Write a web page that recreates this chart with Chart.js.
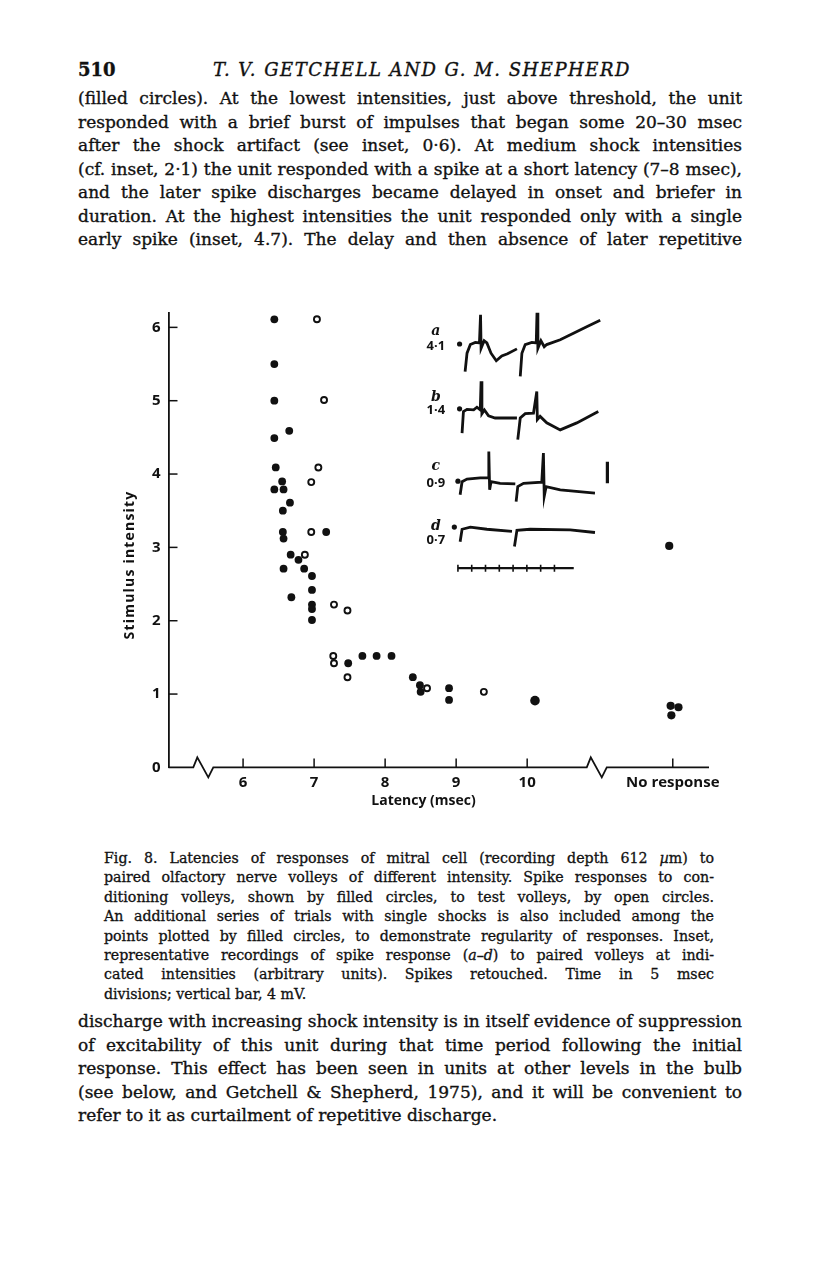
<!DOCTYPE html>
<html>
<head>
<meta charset="utf-8">
<script src="https://cdn.jsdelivr.net/npm/chart.js@4.4.1/dist/chart.umd.min.js"></script>
<style>
  body { margin: 0; background: #fff; }
  #page { position: relative; width: 816px; height: 1275px; overflow: hidden; color: #111; font-family: 'DejaVu Serif', serif; }
  .blk { position: absolute; -webkit-text-stroke: 0.35px #111; }
  .ln { white-space: nowrap; }
  #head { left: 78px; top: 58px; width: 664px; font-size: 18px; line-height: 24px; }
  #head .num { position: absolute; left: 0; font-weight: bold; }
  #head .who { position: absolute; left: 135px; font-style: italic; }
  #body1 { left: 78px; top: 87px; width: 664px; font-size: 17px; line-height: 23.5px; }
  #caption { left: 104px; top: 849px; width: 610px; font-size: 14.2px; line-height: 19.4px; -webkit-text-stroke: 0.3px #111; }
  #body2 { left: 78px; top: 1010px; width: 664px; font-size: 17px; line-height: 23.5px; }
  #chartBox { position: absolute; left: 100px; top: 290px; width: 640px; height: 530px; }
</style>
</head>
<body>
<div id="page">
  <div id="head" class="blk"><span class="num">510</span><span class="who ln" id="who">T. V. GETCHELL AND G. M. SHEPHERD</span></div>
  <div id="body1" class="blk"></div>
  <div id="chartBox"><canvas id="latencyChart" width="640" height="530"></canvas></div>
  <div id="caption" class="blk"></div>
  <div id="body2" class="blk"></div>
</div>
<script>
// conditioning volleys (filled circles), incl. single-shock trials
const filledLatency   = [6.44, 6.44, 6.44, 6.65, 6.44, 6.46, 6.55, 6.44, 6.57, 6.66, 6.56, 6.56, 6.57, 7.17, 6.67, 6.78, 6.57, 6.86, 6.97, 6.97, 6.68, 6.97, 6.97, 6.97, 7.48, 7.68, 7.88, 8.09, 8.39, 8.49, 8.50, 8.90, 8.90, 10.11];
const filledIntensity = [6.11, 5.50, 5.00, 4.59, 4.49, 4.09, 3.90, 3.79, 3.79, 3.61, 3.50, 3.21, 3.12, 3.21, 2.90, 2.83, 2.71, 2.71, 2.61, 2.42, 2.32, 2.22, 2.16, 2.01, 1.42, 1.52, 1.52, 1.52, 1.23, 1.12, 1.03, 1.08, 0.92, 0.91];
// test volleys (open circles)
const openLatency   = [7.04, 7.14, 7.06, 6.96, 6.96, 6.87, 7.28, 7.47, 7.27, 7.28, 7.47, 8.59, 9.39];
const openIntensity = [6.11, 5.01, 4.09, 3.89, 3.21, 2.90, 2.22, 2.14, 1.52, 1.42, 1.23, 1.08, 1.03];
// no response column
const noRespLatency   = [12.00, 12.02, 12.13, 12.03];
const noRespIntensity = [3.02, 0.84, 0.82, 0.71];

const xTickValues = [6, 7, 8, 9, 10, 12.05];
const xTickLabels = ['6', '7', '8', '9', '10', 'No response'];
const yTickValues = [0, 1, 2, 3, 4, 5, 6];
const axisBreaks = [5.44, 10.98];

// inset recordings: [time msec, potential mV]
const insetLetters = ['a', 'b', 'c', 'd'];
const insetIntensities = ['4·1', '1·4', '0·9', '0·7'];
const stimT = [0.6, 0.6, 0.0, -1.3];
const stimV = [41.5, 29.5, 16.1, 7.6];
const traceA1 = [[2.6,36.4],[3.3,39.8],[4.5,41.4],[6.3,41.8],[7.8,41.7],[8.2,46.9],[8.4,40.7],[9.5,42.1],[10.5,41.7],[12.0,39.8],[13.9,38.4],[15.9,39.3],[18.0,39.7],[21.4,40.6]];
const traceA2 = [[22.6,35.5],[23.2,39.8],[24.4,41.4],[26.8,41.8],[28.4,41.7],[28.7,47.8],[29.0,40.7],[30.1,42.1],[31.3,41.0],[32.2,41.4],[37.1,42.3],[41.9,43.5],[46.7,44.7],[51.6,45.9]];
const traceB1 = [[1.5,25.0],[2.0,29.0],[3.3,29.4],[5.7,29.3],[6.9,29.8],[8.1,29.3],[8.4,34.6],[8.7,28.6],[9.6,29.3],[11.1,28.2],[13.5,27.8],[21.4,27.8]];
const traceB2 = [[21.7,23.8],[22.6,27.8],[24.4,28.6],[27.4,28.7],[28.6,32.7],[28.8,27.5],[29.8,28.1],[32.2,26.9],[37.1,25.6],[43.1,26.9],[50.9,29.0]];
const traceC1 = [[0.8,13.6],[1.5,16.0],[3.3,16.5],[8.1,16.7],[11.1,16.7],[11.2,21.6],[11.5,14.5],[12.0,16.0],[15.3,15.7],[20.8,15.6]];
const traceC2 = [[21.1,12.3],[21.7,15.1],[23.8,15.7],[30.4,15.9],[31.0,21.3],[31.3,13.3],[32.0,15.1],[37.1,14.5],[49.7,13.9]];
const traceD1 = [[0.8,4.9],[1.5,7.2],[4.5,7.6],[10.5,7.2],[19.6,6.8]];
const traceD2 = [[20.5,4.0],[21.4,7.0],[26.2,7.2],[40.7,7.1],[49.7,6.6]];
const timeBar = [[0, 0], [42, 0]];
const timeBarTicks = [0, 5, 10, 15, 20, 25, 30, 35];
const voltBar = [[54.2, 15.7], [54.2, 19.7]];

// ---- text ----
const bodyLines = [
  '(filled circles). At the lowest intensities, just above threshold, the unit',
  'responded with a brief burst of impulses that began some 20–30 msec',
  'after the shock artifact (see inset, 0·6). At medium shock intensities',
  '(cf. inset, 2·1) the unit responded with a spike at a short latency (7–8 msec),',
  'and the later spike discharges became delayed in onset and briefer in',
  'duration. At the highest intensities the unit responded only with a single',
  'early spike (inset, 4.7). The delay and then absence of later repetitive'
];
const captionLines = [
  'Fig. 8. Latencies of responses of mitral cell (recording depth 612 <i>µ</i>m) to',
  'paired olfactory nerve volleys of different intensity. Spike responses to con-',
  'ditioning volleys, shown by filled circles, to test volleys, by open circles.',
  'An additional series of trials with single shocks is also included among the',
  'points plotted by filled circles, to demonstrate regularity of responses. Inset,',
  'representative recordings of spike response (<i>a</i>–<i>d</i>) to paired volleys at indi-',
  'cated intensities (arbitrary units). Spikes retouched. Time in 5 msec',
  'divisions; vertical bar, 4 mV.'
];
const lowerLines = [
  'discharge with increasing shock intensity is in itself evidence of suppression',
  'of excitability of this unit during that time period following the initial',
  'response. This effect has been seen in units at other levels in the bulb',
  '(see below, and Getchell &amp; Shepherd, 1975), and it will be convenient to',
  'refer to it as curtailment of repetitive discharge.'
];

function fitLine(sp, W, stretch) {
  const w = sp.getBoundingClientRect().width;
  if (w > W) {
    sp.style.letterSpacing = ((W - w) / sp.textContent.length) + 'px';
  } else if (stretch) {
    const gaps = (sp.textContent.match(/ /g) || []).length;
    if (gaps) sp.style.wordSpacing = ((W - w) / gaps) + 'px';
  }
}

function setBlock(id, lines, lastPlain) {
  const box = document.getElementById(id);
  const W = box.clientWidth;
  lines.forEach(function (html, i) {
    const ln = document.createElement('div');
    ln.className = 'ln';
    const sp = document.createElement('span');
    sp.innerHTML = html;
    ln.appendChild(sp);
    box.appendChild(ln);
    fitLine(sp, W, !(lastPlain && i === lines.length - 1));
  });
}

setBlock('body1', bodyLines, false);
setBlock('caption', captionLines, true);
setBlock('body2', lowerLines, true);
(function () {
  const who = document.getElementById('who');
  const w = who.getBoundingClientRect().width;
  who.style.letterSpacing = ((418 - w) / who.textContent.length) + 'px';
})();

// ---- chart ----
const pts = (xs, ys) => xs.map((x, i) => ({ x: x, y: ys[i] }));
const pairs = arr => arr.map(p => ({ x: p[0], y: p[1] }));
const ink = '#111';

const traceSet = (arr) => ({
  data: pairs(arr), xAxisID: 'tx', yAxisID: 'ty', showLine: true,
  borderColor: ink, borderWidth: 2.8, pointRadius: 0, tension: 0
});

const insetLabelPos = { x: -8.0, letterV: [43.8, 31.7, 18.9, 7.7], numV: [41.0, 29.3, 15.7, 5.2] };

const paperAxes = {
  id: 'paperAxes',
  afterDatasetsDraw(chart) {
    const ctx = chart.ctx;
    const x = chart.scales.x, y = chart.scales.y;
    const tx = chart.scales.tx, ty = chart.scales.ty;
    const area = chart.chartArea;
    const y0 = y.getPixelForValue(0);
    ctx.save();
    ctx.strokeStyle = ink;
    ctx.fillStyle = ink;
    ctx.lineWidth = 1.8;
    ctx.lineJoin = 'miter';
    // x axis with breaks
    ctx.beginPath();
    ctx.moveTo(area.left, y0);
    axisBreaks.forEach(function (b) {
      const bx = x.getPixelForValue(b);
      ctx.lineTo(bx - 10, y0);
      ctx.lineTo(bx - 6, y0 - 10);
      ctx.lineTo(bx + 5, y0 + 10);
      ctx.lineTo(bx + 10, y0);
    });
    ctx.lineTo(area.right, y0);
    ctx.stroke();
    // inward tick marks
    ctx.lineWidth = 1.5;
    xTickValues.forEach(function (v) {
      const px = x.getPixelForValue(v);
      ctx.beginPath(); ctx.moveTo(px, y0); ctx.lineTo(px, y0 - 9); ctx.stroke();
    });
    yTickValues.forEach(function (v) {
      if (v === 0) return;
      const py = y.getPixelForValue(v);
      ctx.beginPath(); ctx.moveTo(area.left, py); ctx.lineTo(area.left + 9, py); ctx.stroke();
    });
    // axis titles
    ctx.font = 'bold 14px "Open Sans"';
    ctx.textAlign = 'center';
    ctx.textBaseline = 'middle';
    ctx.fillText('Latency (msec)', x.getPixelForValue(8.54), y0 + 34);
    ctx.save();
    ctx.translate(area.left - 38, y.getPixelForValue(2.76));
    ctx.rotate(-Math.PI / 2);
    ctx.letterSpacing = '1.2px';
    ctx.fillText('Stimulus intensity', 0, 0);
    ctx.restore();
    // inset labels and stimulus marks
    const lx = tx.getPixelForValue(insetLabelPos.x);
    insetLetters.forEach(function (letter, i) {
      ctx.font = 'italic bold 14px "DejaVu Serif"';
      ctx.fillText(letter, lx, ty.getPixelForValue(insetLabelPos.letterV[i]));
      ctx.font = 'bold 13px "Open Sans"';
      ctx.fillText(insetIntensities[i], lx, ty.getPixelForValue(insetLabelPos.numV[i]));
      ctx.beginPath();
      ctx.arc(tx.getPixelForValue(stimT[i]), ty.getPixelForValue(stimV[i]), 2.6, 0, Math.PI * 2);
      ctx.fill();
    });
    ctx.restore();
  }
};

new Chart(document.getElementById('latencyChart'), {
  type: 'scatter',
  data: {
    datasets: [
      { label: 'Test volleys', data: pts(openLatency, openIntensity),
        pointRadius: 3, pointBackgroundColor: '#fff', pointBorderColor: ink, pointBorderWidth: 1.9 },
      { label: 'Conditioning volleys', data: pts(filledLatency, filledIntensity),
        pointRadius: ctx => (ctx.raw && ctx.raw.x > 10 ? 4.8 : 3.9),
        pointBackgroundColor: ink, pointBorderWidth: 0 },
      { label: 'No response', data: pts(noRespLatency, noRespIntensity),
        pointRadius: 4.1, pointBackgroundColor: ink, pointBorderWidth: 0 },
      traceSet(traceA1), traceSet(traceA2), traceSet(traceB1), traceSet(traceB2),
      traceSet(traceC1), traceSet(traceC2), traceSet(traceD1), traceSet(traceD2),
      Object.assign(traceSet(timeBar), { borderWidth: 2.4 }),
      { data: timeBarTicks.map(t => ({ x: t, y: 0 })), xAxisID: 'tx', yAxisID: 'ty',
        pointStyle: 'line', rotation: 90, pointRadius: 3.5, pointBorderColor: ink, pointBorderWidth: 1.6 },
      Object.assign(traceSet(voltBar), { borderWidth: 3.2 })
    ]
  },
  options: {
    responsive: false,
    animation: false,
    devicePixelRatio: 1,
    layout: { padding: { top: 22.7, right: 31, left: 0, bottom: 0 } },
    plugins: { legend: { display: false }, tooltip: { enabled: false } },
    scales: {
      x: {
        type: 'linear', min: 4.95, max: 12.56,
        grid: { display: false, drawTicks: false },
        border: { display: false },
        afterBuildTicks: s => { s.ticks = xTickValues.map(v => ({ value: v })); },
        afterFit: s => { s.height = 52.6; },
        ticks: {
          padding: 6, color: ink, maxRotation: 0, autoSkip: false,
          font: { family: 'Open Sans', size: 15, weight: 'bold' },
          callback: (v, i) => xTickLabels[i]
        }
      },
      y: {
        type: 'linear', min: 0, max: 6.2,
        grid: { display: false, drawTicks: false },
        border: { display: true, color: ink, width: 1.8 },
        afterBuildTicks: s => { s.ticks = yTickValues.map(v => ({ value: v })); },
        afterFit: s => { s.width = 68.5; },
        ticks: {
          padding: 8, color: ink,
          font: { family: 'Open Sans', size: 15, weight: 'bold' }
        }
      },
      tx: { type: 'linear', axis: 'x', position: 'bottom', display: false, min: -104.96, max: 91.05 },
      ty: { type: 'linear', axis: 'y', position: 'left', display: false, min: -36.9, max: 47.3 }
    }
  },
  plugins: [paperAxes]
});
</script>
</body>
</html>
